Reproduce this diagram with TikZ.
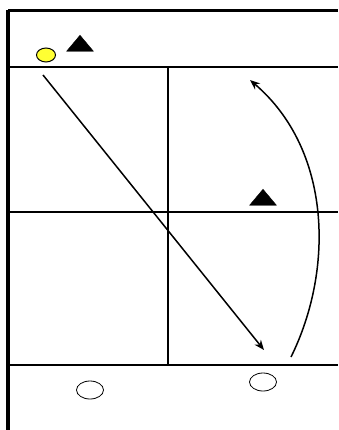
\documentclass[tikz,border=0pt]{standalone}
\usepackage{tikz}
\usetikzlibrary{positioning,arrows.meta,shapes.geometric}
\definecolor{ball}{HTML}{FFFF33}

\begin{document}
\begin{tikzpicture}[x=1pt, y=-1pt,
        courtline/.style={line width=2pt, black},
        sideline/.style={line width=4pt, black},
        runpath/.style={-{Stealth[length=3.5mm, width=2.8mm]}, line width=1.5pt},
        player/.style={isosceles triangle, shape border rotate=90,
          isosceles triangle apex angle=80, fill=black, draw=black,
          minimum width=26pt, minimum height=16pt, inner sep=0pt},
        cone/.style={ellipse, draw=black, fill=white, line width=0.8pt,
          minimum width=27pt, minimum height=18pt, inner sep=0pt},
        ballnode/.style={ellipse, draw=black, fill=ball, line width=1pt,
          minimum width=19pt, minimum height=14pt, inner sep=0pt},
      ]
      \useasboundingbox (0,0) rectangle (338,430);

      % Court lines
      \draw[sideline] (8,10) -- (8,430);
      \draw[line width=3pt] (8,11) -- (338,11);
      \draw[courtline] (8,67) -- (338,67);
      \draw[courtline] (8,212) -- (338,212);
      \draw[courtline] (8,365) -- (338,365);
      \draw[courtline] (168,67) -- (168,365);

      % Ball and players
      \node[ballnode] (ball) at (46,55) {};
      \node[player] (p1) at (80,45) {};
      \node[player] (p2) at (263,199) {};

      % Cones
      \node[cone] (c1) at (90,390) {};
      \node[cone] (c2) at (263,382) {};

      % Runs
      \coordinate (a1) at (43,75);
      \coordinate (a2) at (264,350);
      \coordinate (b1) at (291,357);
      \coordinate (b2) at (250,80);
      \draw[runpath] (a1) -- (a2);
      \draw[runpath] (b1) .. controls (334,270) and (332,150) .. (b2);
    \end{tikzpicture}
\end{document}
